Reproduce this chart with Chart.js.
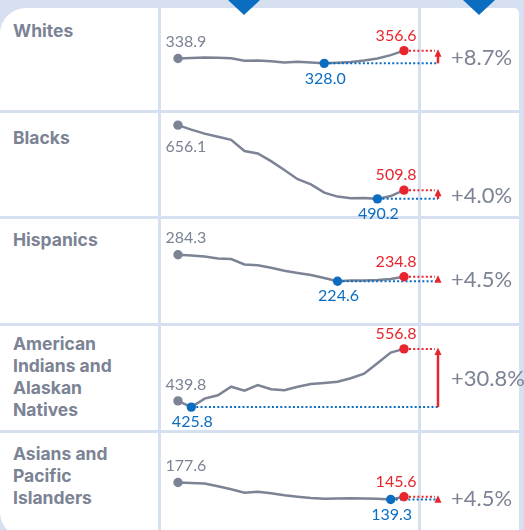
<!DOCTYPE html>
<html><head><meta charset="utf-8">
<script src="https://cdn.jsdelivr.net/npm/chart.js@4.4.1/dist/chart.umd.min.js"></script>
<style>
html,body{margin:0;padding:0;}
body{width:524px;height:530px;overflow:hidden;background:#d6e0f1;position:relative;font-family:Inter,'Noto Sans',sans-serif;}
#panel{position:absolute;left:0;top:8px;width:519px;height:530px;background:#fff;border-radius:26px 5px 0 26px;}
.vsep{position:absolute;top:8px;width:3px;height:530px;background:#d6e0f1;}
.hsep{position:absolute;left:0;width:519px;height:3px;background:#d6e0f1;}
.tri{position:absolute;top:0;width:0;height:0;border-left:16px solid transparent;border-right:16px solid transparent;border-top:15px solid #0b6dbf;}
.lbl{position:absolute;left:13px;width:120px;font-weight:700;font-size:17.5px;line-height:22px;color:#7b8394;}
.cv{position:absolute;left:161px;width:363px;height:130px;}
</style></head>
<body>
<div id="panel"></div>
<div class="vsep" style="left:158px"></div>
<div class="vsep" style="left:418px"></div>
<div class="hsep" style="top:110px"></div>
<div class="hsep" style="top:216px"></div>
<div class="hsep" style="top:323px"></div>
<div class="hsep" style="top:430px"></div>
<div class="tri" style="left:228px"></div>
<div class="tri" style="left:463px"></div>
<script>
// ---- data ----
const years = ['1999','2000','2001','2002','2003','2004','2005','2006','2007','2008','2009','2010','2011','2012','2013','2014','2015','2016'];
const groups = ['Whites','Blacks','Hispanics','American Indians and Alaskan Natives','Asians and Pacific Islanders'];
const whites    = [338.9, 339.8, 341.0, 340.6, 339.5, 333.8, 334.6, 332.6, 330.2, 331.8, 330.0, 328.0, 329.6, 331.2, 334.2, 338.8, 346.6, 356.6];
const blacks    = [656.1, 646.0, 637.0, 630.0, 623.0, 598.0, 592.5, 575.0, 555.0, 534.4, 522.8, 504.3, 495.3, 491.8, 492.4, 490.2, 496.5, 509.8];
const hispanics = [284.3, 282.5, 280.3, 276.0, 274.7, 262.4, 260.4, 254.8, 248.1, 243.2, 238.5, 231.8, 224.6, 226.2, 226.6, 227.3, 229.5, 234.8];
const aian      = [439.8, 425.8, 445.0, 452.5, 471.7, 462.6, 475.5, 466.0, 463.8, 471.7, 478.0, 480.2, 483.0, 490.9, 501.0, 524.7, 548.5, 556.8];
const asians    = [177.6, 176.4, 175.3, 169.1, 162.2, 154.6, 156.9, 153.5, 149.1, 145.7, 142.7, 141.1, 141.6, 142.3, 141.6, 140.9, 139.3, 145.6];
const series = [whites, blacks, hispanics, aian, asians];

// ---- layout / style ----
const labelTops = [20, 127, 229, 333, 443];
const chartTops = [7, 112, 218, 328, 441];
const CH = 100, PAD = 15;
const UNITS_PER_PX = 2.25;
const GRAY = '#7b8394', RED = '#e8252d', BLUE = '#0b6dbf';

const annot = {
  id: 'annot',
  afterDatasetDraw(chart, args) {
    if (args.index !== 0) return;
    const m = chart.options.plugins.annot;
    const {ctx, chartArea} = chart;
    const x = chart.scales.x, y = chart.scales.y;
    const xMin = x.getPixelForValue(m.minI), yMin = y.getPixelForValue(m.minV);
    const xLast = x.getPixelForValue(m.last), yLast = y.getPixelForValue(m.lastV);
    const xArrow = chartArea.right + 34;
    ctx.save();
    ctx.lineWidth = 2;
    ctx.setLineDash([2, 2.2]);
    ctx.strokeStyle = BLUE;
    ctx.beginPath(); ctx.moveTo(xMin + 5, yMin); ctx.lineTo(xArrow, yMin); ctx.stroke();
    ctx.strokeStyle = RED;
    ctx.beginPath(); ctx.moveTo(xLast + 5, yLast); ctx.lineTo(xArrow - 3, yLast); ctx.stroke();
    ctx.setLineDash([]);
    ctx.lineWidth = 2.5;
    ctx.beginPath(); ctx.moveTo(xArrow, yMin); ctx.lineTo(xArrow, yLast + 5); ctx.stroke();
    ctx.fillStyle = RED;
    ctx.beginPath();
    ctx.moveTo(xArrow, yLast - 1.5);
    ctx.lineTo(xArrow - 3.5, yLast + 6);
    ctx.lineTo(xArrow + 3.5, yLast + 6);
    ctx.closePath(); ctx.fill();
    ctx.restore();
  },
  afterDraw(chart) {
    const m = chart.options.plugins.annot;
    const {ctx, chartArea} = chart;
    const x = chart.scales.x, y = chart.scales.y;
    const x0 = x.getPixelForValue(0), y0 = y.getPixelForValue(m.firstV);
    const xMin = x.getPixelForValue(m.minI), yMin = y.getPixelForValue(m.minV);
    const xLast = x.getPixelForValue(m.last), yLast = y.getPixelForValue(m.lastV);
    ctx.save();
    ctx.font = '16px Lato, "Open Sans", sans-serif';
    ctx.textBaseline = 'middle';
    ctx.fillStyle = GRAY; ctx.textAlign = 'left';
    const above = (y0 - chartArea.top) > 25;
    ctx.fillText(m.firstV.toFixed(1), x0 - 12.5, above ? y0 - 16.5 : y0 + 22);
    ctx.fillStyle = BLUE; ctx.textAlign = 'center';
    ctx.fillText(m.minV.toFixed(1), xMin + 1, yMin + 15);
    ctx.fillStyle = RED; ctx.textAlign = 'right';
    ctx.fillText(m.lastV.toFixed(1), xLast + 12.5, yLast - 15);
    const pct = (m.lastV - m.minV) / m.minV * 100;
    ctx.font = '22px Lato, "Open Sans", sans-serif';
    ctx.fillStyle = GRAY; ctx.textAlign = 'left';
    ctx.fillText('+' + pct.toFixed(1) + '%', chartArea.right + 47, (yMin + yLast) / 2 + 1);
    ctx.restore();
  }
};

series.forEach((vals, i) => {
  const lbl = document.createElement('div');
  lbl.className = 'lbl';
  lbl.style.top = labelTops[i] + 'px';
  lbl.textContent = groups[i];
  document.body.appendChild(lbl);

  const wrap = document.createElement('div');
  wrap.className = 'cv';
  wrap.style.top = (chartTops[i] - PAD) + 'px';
  const cv = document.createElement('canvas');
  cv.width = 363; cv.height = CH + 2 * PAD;
  wrap.appendChild(cv);
  document.body.appendChild(wrap);

  const minV = Math.min(...vals), maxV = Math.max(...vals);
  const minI = vals.indexOf(minV);
  const last = vals.length - 1;
  const mid = (minV + maxV) / 2;
  const span = CH * UNITS_PER_PX;
  const special = j => j === 0 || j === minI || j === last;
  const colorOf = j => j === last ? RED : (j === minI ? BLUE : GRAY);

  new Chart(cv, {
    type: 'line',
    data: {
      labels: years,
      datasets: [
        { data: vals, borderColor: GRAY, borderWidth: 2.5, pointRadius: 0, tension: 0, clip: false, order: 2 },
        { data: vals.map((v, j) => special(j) ? v : null), showLine: false, pointRadius: 4.7, pointBorderWidth: 0,
          pointBackgroundColor: vals.map((v, j) => colorOf(j)), pointBorderColor: vals.map((v, j) => colorOf(j)), clip: false, order: 1 }
      ]
    },
    options: {
      responsive: false,
      animation: false,
      events: [],
      layout: { padding: { left: 17, right: 120, top: PAD, bottom: PAD } },
      scales: {
        x: { display: false },
        y: { display: false, min: mid - span / 2, max: mid + span / 2 }
      },
      plugins: {
        legend: { display: false },
        tooltip: { enabled: false },
        annot: { minI, minV, last, lastV: vals[last], firstV: vals[0] }
      }
    },
    plugins: [annot]
  });
});
</script>
</body></html>
